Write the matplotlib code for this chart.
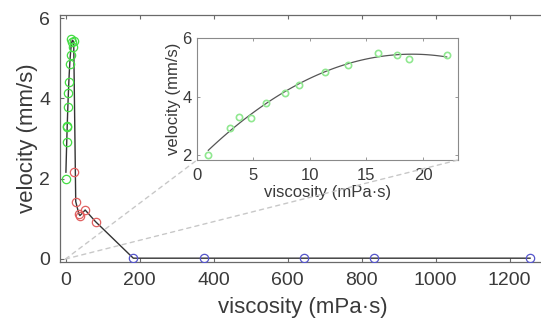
import numpy as np
import matplotlib
matplotlib.use('Agg')
import matplotlib.pyplot as plt
from matplotlib.patches import ConnectionPatch

plt.rcParams['font.family'] = ['Liberation Sans', 'DejaVu Sans']

# green: low viscosity samples (mPa·s, mm/s)
green_visc = [1.0, 2.9, 3.7, 4.8, 6.1, 7.75, 9.0, 11.3, 13.4, 16.0, 17.7, 18.8, 22.1]
green_vel = [2.0, 2.91, 3.30, 3.28, 3.79, 4.13, 4.40, 4.85, 5.08, 5.48, 5.41, 5.29, 5.43]

# red: intermediate viscosity
red_visc = [24, 27.5, 36, 39, 53, 81]
red_vel = [2.17, 1.43, 1.12, 1.08, 1.22, 0.93]

# blue: high viscosity, no motion
blue_visc = [183, 375, 645, 832, 1255]
blue_vel = [0.02, 0.02, 0.02, 0.02, 0.02]

main_xticks = [0, 200, 400, 600, 800, 1000, 1200]
main_yticks = [0, 2, 4, 6]
inset_xticks = [0, 5, 10, 15, 20]
inset_yticks = [2, 4, 6]

text_col = '#3a3a3a'
spine_col = '#6a6a6a'
line_col = '#333333'

# quadratic fit through the green samples
coef = np.polyfit(green_visc, green_vel, 2)
fit_x = np.linspace(min(green_visc), max(green_visc), 100)
fit_y = np.polyval(coef, fit_x)

W, H = 541, 327
fig = plt.figure(figsize=(W / 100, H / 100), dpi=100)
ax = fig.add_axes([60 / W, (H - 262) / H, (546 - 60) / W, (262 - 15) / H])

trend_x = np.concatenate([fit_x, red_visc[1:], blue_visc])
trend_y = np.concatenate([fit_y, red_vel[1:], blue_vel])
ax.plot(trend_x, trend_y, color=line_col, lw=1.0, zorder=3)

ax.plot(green_visc, green_vel, 'o', mfc='none', mec='#44dd44', ms=6, mew=0.9, zorder=4)
ax.plot(red_visc, red_vel, 'o', mfc='none', mec='#e06060', ms=6, mew=0.9, zorder=4)
ax.plot(blue_visc, blue_vel, 'o', mfc='none', mec='#5555cc', ms=6, mew=0.9, zorder=4)

ax.set_xlim(-15, 1298)
ax.set_ylim(-0.075, 6.075)
ax.set_xticks(main_xticks)
ax.set_yticks(main_yticks)
ax.tick_params(direction='in', length=3, width=0.8, colors=spine_col, labelcolor=text_col,
               labelsize=14, top=True, right=True, pad=7)
for s in ax.spines.values():
    s.set_color(spine_col)
    s.set_linewidth(0.9)
ax.set_xlabel('viscosity (mPa·s)', fontsize=16, color=text_col, labelpad=6)
ax.set_ylabel('velocity (mm/s)', fontsize=16, color=text_col, labelpad=1)

# inset
axi = fig.add_axes([197 / W, (H - 160) / H, (458 - 197) / W, (160 - 38) / H])
axi.plot(fit_x, fit_y, color='#555555', lw=0.9, zorder=3)
axi.plot(green_visc, green_vel, 'o', mfc='none', mec='#90e890', ms=4.5, mew=1.2, zorder=4)
axi.set_xlim(0, 23.1)
axi.set_ylim(1.83, 6)
axi.set_xticks(inset_xticks)
axi.set_yticks(inset_yticks)
axi.tick_params(direction='in', length=2, width=0.6, colors='#888888', labelcolor=text_col,
                labelsize=12, top=True, right=True, pad=6)
axi.tick_params(axis='y', pad=4)
for s in axi.spines.values():
    s.set_color('#8a8a8a')
    s.set_linewidth(0.8)
axi.set_xlabel('viscosity (mPa·s)', fontsize=12, color=text_col, labelpad=1)
axi.set_ylabel('velocity (mm/s)', fontsize=12, color=text_col, labelpad=1)

# dashed zoom guides from the main origin to the inset corners
for corner in [(0, 0), (1, 0)]:
    con = ConnectionPatch(xyA=(0, 0), coordsA=ax.transData,
                          xyB=corner, coordsB=axi.transAxes,
                          color='#c8c8c8', ls=(0, (3, 3)), lw=1.0, zorder=1)
    fig.add_artist(con)

fig.savefig('out.png', dpi=100)
